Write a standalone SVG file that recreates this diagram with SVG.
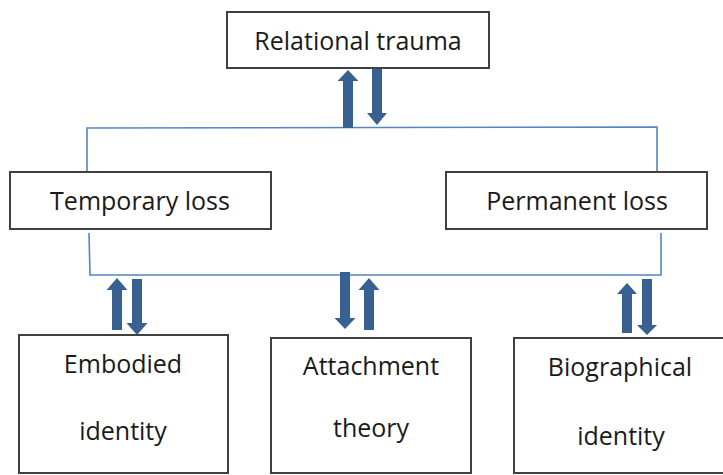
<svg xmlns="http://www.w3.org/2000/svg" width="723" height="475" viewBox="0 0 723 475">
<style>
.box{fill:#fff;stroke:#404040;stroke-width:2}
.lbl{font-family:"Open Sans","DejaVu Sans",sans-serif;font-size:25px;fill:#1a1a1a;text-anchor:middle}
.bl{fill:none;stroke:#5585c2;stroke-width:1.6}
.ar{fill:#386192}
</style>
<rect width="723" height="475" fill="#fff"/>
<g id="connectors">
<polyline class="bl" points="87,172 87,128 657,127 657,172"/>
<polyline class="bl" points="89,233 90,275 661,275 661,233"/>
<polygon class="ar" points="348,70 358.5,81 353,81 353,128 343,128 343,81 337.5,81"/>
<polygon class="ar" points="377,125 387,113 382,113 382,68 372,68 372,113 367,113"/>
<polygon class="ar" points="117,278 127.5,290 122,290 122,330 112,330 112,290 106.5,290"/>
<polygon class="ar" points="137,335 147.5,323 142,323 142,279 132,279 132,323 126.5,323"/>
<polygon class="ar" points="345,329 355.5,318 350,318 350,272 340,272 340,318 334.5,318"/>
<polygon class="ar" points="369,278 379.5,290 374,290 374,330 364,330 364,290 358.5,290"/>
<polygon class="ar" points="627,283 637,294 632,294 632,333 622,333 622,294 617,294"/>
<polygon class="ar" points="647,335 657,325 652,325 652,279 642,279 642,325 637,325"/>
</g>
<g id="relational-trauma">
<rect class="box" x="227" y="12" width="262" height="56"/>
<text class="lbl" x="358" y="50">Relational trauma</text>
</g>
<g id="temporary-loss">
<rect class="box" x="10" y="172" width="261" height="57"/>
<text class="lbl" x="140" y="210">Temporary loss</text>
</g>
<g id="permanent-loss">
<rect class="box" x="446" y="172" width="261" height="57"/>
<text class="lbl" x="577" y="210">Permanent loss</text>
</g>
<g id="embodied-identity">
<rect class="box" x="19" y="335" width="209" height="138"/>
<text class="lbl" x="123" y="373">Embodied</text>
<text class="lbl" x="123" y="440">identity</text>
</g>
<g id="attachment-theory">
<rect class="box" x="271" y="338" width="200" height="135"/>
<text class="lbl" x="371" y="375">Attachment</text>
<text class="lbl" x="371" y="437">theory</text>
</g>
<g id="biographical-identity">
<rect class="box" x="514" y="338" width="220" height="135"/>
<text class="lbl" x="620" y="376">Biographical</text>
<text class="lbl" x="621" y="445">identity</text>
</g>
</svg>
